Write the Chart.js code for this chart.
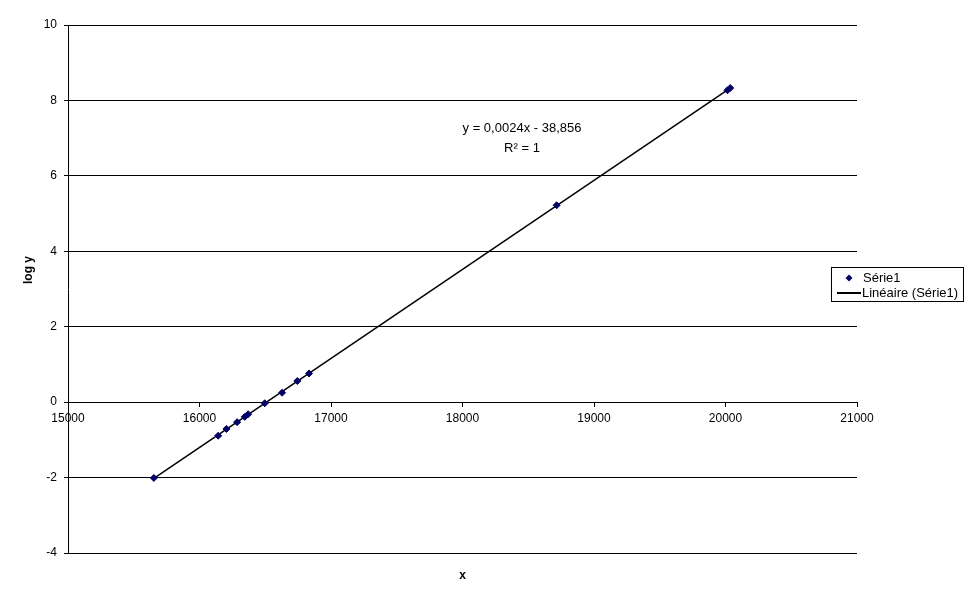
<!DOCTYPE html>
<html>
<head>
<meta charset="utf-8">
<script src="https://cdn.jsdelivr.net/npm/chart.js@4.4.1/dist/chart.umd.min.js"></script>
<style>
  html, body { margin: 0; padding: 0; background: #fff; }
  #wrap { width: 970px; height: 602px; }
</style>
</head>
<body>
<div id="wrap"><canvas id="graph_canvas" width="970" height="602"></canvas></div>
<script>
// values
const X_VALUES = [15653, 16142, 16205, 16286, 16344, 16370, 16496, 16628, 16744, 16833, 18716, 20015, 20036];
const LOGY_VALUES = [-2.01, -0.89, -0.71, -0.53, -0.39, -0.32, -0.03, 0.25, 0.56, 0.76, 5.22, 8.27, 8.33];

const SERIES_LABEL = 'Série1';
const TREND_LABEL = 'Linéaire (Série1)';
const EQUATION_LINES = ['y = 0,0024x - 38,856', 'R² = 1'];
const X_TITLE = 'x';
const Y_TITLE = 'log y';

const FONT = 'Arial, "Liberation Sans", sans-serif';

// least squares fit for the trend line
function linearFit(xs, ys) {
    var n = xs.length, sx = 0, sy = 0, sxy = 0, sxx = 0;
    for (var i = 0; i < n; i++) {
        sx += xs[i]; sy += ys[i];
        sxy += xs[i] * ys[i]; sxx += xs[i] * xs[i];
    }
    var slope = (n * sxy - sx * sy) / (n * sxx - sx * sx);
    return { slope: slope, intercept: (sy - slope * sx) / n };
}

const fit = linearFit(X_VALUES, LOGY_VALUES);
const xMin = Math.min(...X_VALUES), xMax = Math.max(...X_VALUES);
const trendPoints = [xMin, xMax].map(x => ({ x: x, y: fit.slope * x + fit.intercept }));
const scatterPoints = X_VALUES.map((x, i) => ({ x: x, y: LOGY_VALUES[i] }));

// axis titles, equation text and legend box, drawn after the datasets
const extrasPlugin = {
    id: 'extras',
    afterDraw(chart) {
        const ctx = chart.ctx;
        const area = chart.chartArea;
        ctx.save();
        ctx.fillStyle = '#000';
        ctx.textAlign = 'center';
        ctx.textBaseline = 'middle';
        ctx.font = 'bold 12px ' + FONT;
        ctx.fillText(X_TITLE, (area.left + area.right) / 2, 576);

        ctx.save();
        ctx.translate(29, 270);
        ctx.rotate(-Math.PI / 2);
        ctx.fillText(Y_TITLE, 0, 0);
        ctx.restore();

        ctx.font = '13px ' + FONT;
        ctx.fillText(EQUATION_LINES[0], 522, 128);
        ctx.fillText(EQUATION_LINES[1], 522, 148);

        // legend
        ctx.strokeStyle = '#000';
        ctx.lineWidth = 1;
        ctx.strokeRect(831.5, 267.5, 132, 34);
        ctx.fillStyle = '#000066';
        ctx.beginPath();
        ctx.moveTo(849, 274.5); ctx.lineTo(852.5, 278); ctx.lineTo(849, 281.5); ctx.lineTo(845.5, 278);
        ctx.closePath();
        ctx.fill();
        ctx.beginPath();
        ctx.lineWidth = 2;
        ctx.moveTo(837, 293); ctx.lineTo(861, 293);
        ctx.stroke();
        ctx.fillStyle = '#000';
        ctx.textAlign = 'left';
        ctx.fillText(SERIES_LABEL, 863, 278);
        ctx.fillText(TREND_LABEL, 862, 293);
        ctx.restore();
    }
};

document.addEventListener("DOMContentLoaded", function () {
    Chart.defaults.font.family = FONT;
    Chart.defaults.font.size = 12;
    Chart.defaults.color = '#000';

    new Chart(document.getElementById('graph_canvas'), {
        type: 'scatter',
        data: {
            datasets: [{
                label: SERIES_LABEL,
                data: scatterPoints,
                pointStyle: 'rectRot',
                pointRadius: 3.5,
                pointBackgroundColor: '#000066',
                pointBorderColor: '#000066',
                order: 1
            }, {
                label: TREND_LABEL,
                type: 'line',
                data: trendPoints,
                borderColor: '#000',
                borderWidth: 1.5,
                pointRadius: 0,
                fill: false,
                order: 2
            }]
        },
        options: {
            responsive: false,
            animation: false,
            layout: { padding: { top: 25, right: 113, left: 0, bottom: 49 } },
            plugins: {
                legend: { display: false },
                tooltip: { enabled: false }
            },
            scales: {
                x: {
                    type: 'linear',
                    position: { y: 0 },
                    min: 15000,
                    max: 21000,
                    ticks: { stepSize: 1000, padding: 5, maxRotation: 0, callback: v => String(v) },
                    grid: { drawOnChartArea: false, drawTicks: true, tickLength: 4, color: '#000' },
                    border: { color: '#000', width: 1 }
                },
                y: {
                    min: -4,
                    max: 10,
                    ticks: { stepSize: 2, padding: 7, callback: v => String(v) },
                    grid: { color: '#000', lineWidth: 1, tickLength: 4 },
                    border: { color: '#000', width: 1 },
                    afterFit(scale) { scale.width = 68; }
                }
            }
        },
        plugins: [extrasPlugin]
    });
});
</script>
</body>
</html>
